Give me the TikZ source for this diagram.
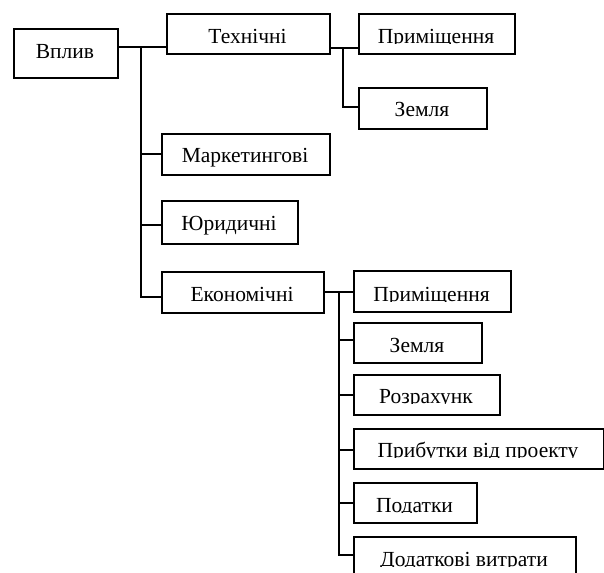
\documentclass[tikz,border=0pt]{standalone}
\usepackage{fontspec}
\setmainfont{Liberation Serif}
\tikzset{
  cbx/.style={draw, line width=1.6pt, rectangle, inner sep=0pt, anchor=north west},
  lbl/.style={anchor=base, inner sep=0pt, font=\fontsize{21.5}{25}\selectfont},
  link/.style={line width=1.6pt}
}
\newcommand\cbox[8]{%
  \begin{scope}
    \clip (#2,#3) rectangle (#4,#7);
    \node[lbl] (#1-t) at ({(#2+#4)/2},#6) {#8};
  \end{scope}
  \node[cbx, minimum width={(#4-#2)*1pt}, minimum height={(#5-#3)*1pt}] (#1) at (#2,#3) {};
}
\begin{document}
\begin{tikzpicture}[x=1pt,y=-1pt]
\clip (0,0) rectangle (604,572);
\fill[white] (0,0) rectangle (604,572);
\cbox{vplyv}{13}{28}{117}{77}{59}{77}{Вплив}
\cbox{tech}{166}{13}{329}{53}{44}{53}{Технічні}
\cbox{prim1}{358}{13}{514}{53}{44}{44}{Приміщення}
\cbox{zem1}{358}{87}{486}{128}{117}{128}{Земля}
\cbox{mark}{161}{133}{329}{174}{163}{174}{Маркетингові}
\cbox{jur}{161}{200}{297}{243}{230}{243}{Юридичні}
\cbox{econ}{161}{271}{323}{312}{301}{312}{Економічні}
\cbox{prim2}{353}{270}{510}{311}{301}{301}{Приміщення}
\cbox{zem2}{353}{322}{481}{362}{352}{362}{Земля}
\cbox{rozr}{353}{374}{499}{414}{403}{403}{Розрахунк}
\cbox{prib}{353}{428}{603}{468}{457}{457}{Прибутки від проекту}
\cbox{pod}{353}{482}{476}{522}{512}{512}{Податки}
\cbox{dod}{353}{536}{575}{590}{566}{566}{Додаткові витрати}
% main trunk
\coordinate (j1) at (141,47);
\coordinate (j2) at (141,154);
\coordinate (j3) at (141,225);
\coordinate (j4) at (141,297);
\draw[link] (vplyv.east|-j1) -- (tech.west|-j1);
\draw[link] (j1) -- (j4) -- (econ.west|-j4);
\draw[link] (j2) -- (mark.west|-j2);
\draw[link] (j3) -- (jur.west|-j3);
% technical branch
\coordinate (k1) at (343,48);
\coordinate (k2) at (343,107);
\draw[link] (tech.east|-k1) -- (prim1.west|-k1);
\draw[link] (k1) -- (k2) -- (zem1.west|-k2);
% economic branch
\coordinate (m1) at (339,292);
\coordinate (m2) at (339,340);
\coordinate (m3) at (339,395);
\coordinate (m4) at (339,450);
\coordinate (m5) at (339,503);
\coordinate (m6) at (339,555);
\draw[link] (econ.east|-m1) -- (prim2.west|-m1);
\draw[link] (m1) -- (m6) -- (dod.west|-m6);
\draw[link] (m2) -- (zem2.west|-m2);
\draw[link] (m3) -- (rozr.west|-m3);
\draw[link] (m4) -- (prib.west|-m4);
\draw[link] (m5) -- (pod.west|-m5);
\end{tikzpicture}
\end{document}
